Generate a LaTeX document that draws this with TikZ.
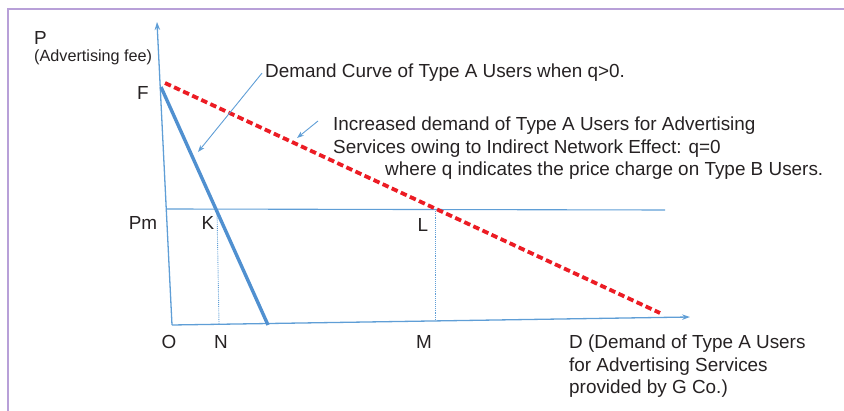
\documentclass[tikz,border=0pt]{standalone}
\usepackage{fontspec}
\setmainfont{Liberation Sans}
\usetikzlibrary{arrows.meta,calc,positioning}
\definecolor{axisblue}{RGB}{95,158,214}
\definecolor{curveblue}{RGB}{80,144,208}
\definecolor{shiftred}{RGB}{236,28,36}
\definecolor{framepurple}{RGB}{184,160,216}
\definecolor{inkgray}{RGB}{38,34,35}

\begin{document}
\begin{tikzpicture}[x=1pt, y=-1pt,
  axis/.style={axisblue, line width=1.3pt, -{Stealth[length=8pt, width=5.5pt]}},
  guide/.style={axisblue, line width=1.1pt},
  drop/.style={axisblue, line width=0.9pt, densely dotted},
  curve/.style={curveblue, line width=3.4pt},
  shifted/.style={shiftred, line width=3.8pt, dash pattern=on 6.5pt off 3.5pt},
  pointer/.style={-{Stealth[length=7pt, width=5pt]}, axisblue, line width=0.9pt},
  lbl/.style={inner sep=0pt, text=inkgray, font=\fontsize{18.9}{22.5}\selectfont},
  note/.style={inner sep=0pt, text=inkgray, align=left, font=\fontsize{18.9}{22.5}\selectfont}
]
\useasboundingbox (0,0) rectangle (844,411);

% frame of the figure box
\draw[framepurple, line width=1.6pt] (8,411) -- (8,9) -- (844,9);

% key points
\coordinate (O) at (172,325);
\coordinate (Ptop) at (157,22);
\coordinate (Dtip) at (690,317);
\coordinate (F) at (161,87);
\coordinate (Fend) at (268,325);
\coordinate (K) at (217,209);
\coordinate (L) at (435,209);
\coordinate (N) at (219,324);
\coordinate (M) at (435,321);
\coordinate (Pm) at (167,209);
\coordinate (PmEnd) at (665,210);
\coordinate (Rstart) at (165,83);
\coordinate (Rend) at (660,313);

% axes
\draw[axis] (O) -- (Ptop);
\draw[axis] (O) -- (Dtip);

% price level Pm and drop lines
\draw[guide] (Pm) -- (PmEnd);
\draw[drop] (K) -- (N);
\draw[drop] (L) -- (M);

% demand curves
\draw[curve] (F) -- (Fend);
\draw[shifted] (Rstart) -- (Rend);

% axis labels
\node[lbl, anchor=west] (lblP) at (34,38) {P};
\node[lbl, anchor=west, font=\fontsize{16.2}{19}\selectfont] (lblFee) at (34,57) {(Advertising fee)};
\node[lbl] (lblF) at (143,93) {F};
\node[lbl] (lblPm) at (143,223) {Pm};
\node[lbl] (lblK) at (208,223) {K};
\node[lbl] (lblL) at (423,225) {L};
\node[lbl] (lblO) at (169,342) {O};
\node[lbl] (lblN) at (221,342) {N};
\node[lbl] (lblM) at (424,342) {M};
\node[note, anchor=north west] (lblD) at (569,335)
  {D (Demand of Type A Users\\for Advertising Services\\provided by G Co.)};

% explanations
\node[lbl, anchor=base west] (noteA) at (265,78) {Demand Curve of Type A Users when q>0.};
\node[note, anchor=north west] (noteB) at (333,117)
  {Increased demand of Type A Users for Advertising\\
   Services owing to Indirect Network Effect: q=0\\
   \hspace*{52pt}where q indicates the price charge on Type B Users.};

\coordinate (tipA) at (198,152);
\coordinate (tipB) at (297,138);
\draw[pointer] ([xshift=-3pt]noteA.west) -- (tipA);
\draw[pointer] ([xshift=-15pt, yshift=-4pt]noteB.north west) -- (tipB);

\end{tikzpicture}
\end{document}
